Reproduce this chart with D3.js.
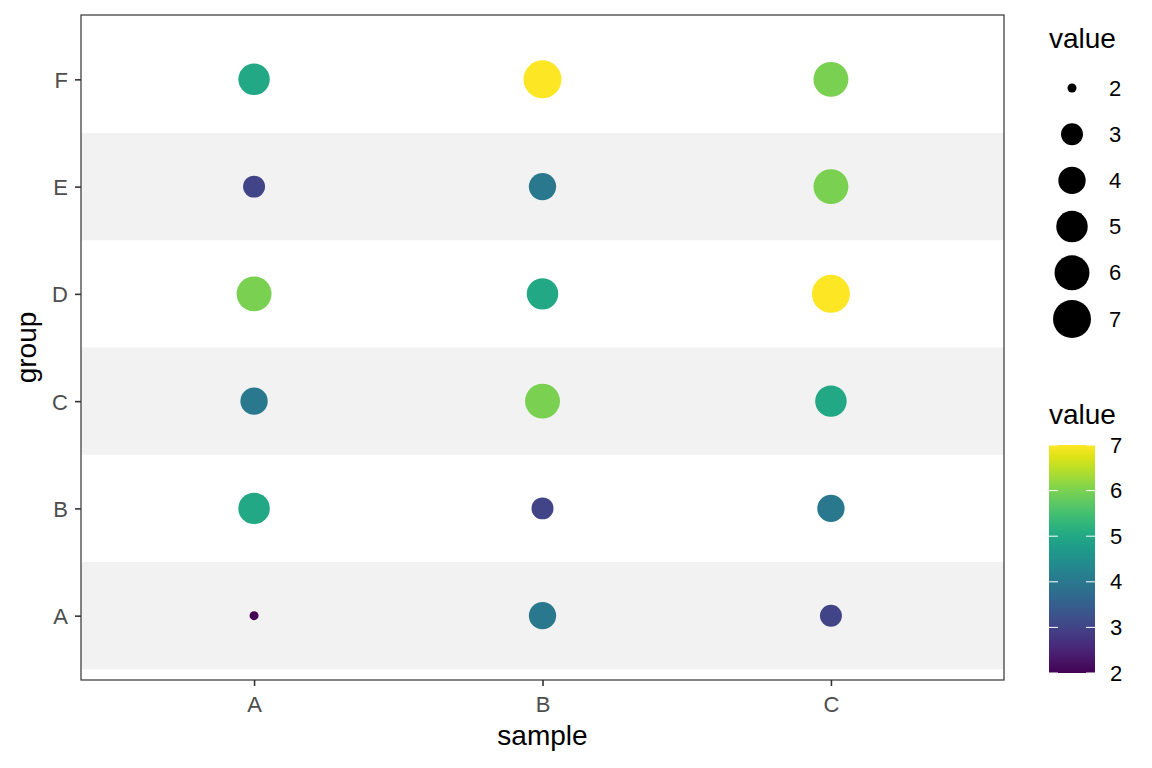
<!DOCTYPE html>
<html>
<head>
<meta charset="utf-8">
<script src="https://cdn.jsdelivr.net/npm/d3@7"></script>
<style>
  body { margin: 0; background: #fff; }
  text { font-family: "Liberation Sans", Arial, sans-serif; }
</style>
</head>
<body>
<div id="chart"></div>
<script>
// data: one row per group, values for samples A, B, C
var samples = ["A", "B", "C"];
var groups = ["A", "B", "C", "D", "E", "F"];
var valuesA = [2, 4, 3]; // group A
var valuesB = [5, 3, 4];
var valuesC = [4, 6, 5];
var valuesD = [6, 5, 7];
var valuesE = [3, 4, 6];
var valuesF = [5, 7, 6];
var legendValues = [2, 3, 4, 5, 6, 7];

var rows = [valuesA, valuesB, valuesC, valuesD, valuesE, valuesF];
var data = [];
groups.forEach(function(g, i) {
    samples.forEach(function(s, j) {
        data.push({ group: g, sample: s, value: rows[i][j] });
    });
});

var W = 1152, H = 768;
var margin = { top: 15, right: 148, bottom: 88, left: 81 };
var width = W - margin.left - margin.right;
var height = H - margin.top - margin.bottom;
var titleSize = "28px", tickSize = "22px";

var svg = d3.select("#chart").append("svg")
    .attr("width", W).attr("height", H);

var fig = svg.append("g")
    .attr("transform", "translate(" + margin.left + "," + margin.top + ")");

// discrete scales with ggplot-like 0.6 expansion
var x = d3.scalePoint().domain(samples).range([0, width]).padding(0.6);
var y = d3.scalePoint().domain(groups).range([height, 0]).padding(0.6);
var band = y.step();

var colour = d3.scaleSequential(d3.interpolateViridis).domain([2, 7]);
var sizeScale = d3.scaleSqrt().domain([0, 5]).range([1, 6]);
function radius(v) { return 2.9 * sizeScale(v - 2) + 1.6; }

// alternating row shading
fig.selectAll("rect.stripe")
    .data(groups.filter(function(g, i) { return i % 2 === 0; }))
    .enter().append("rect")
    .attr("class", "stripe")
    .attr("x", 0)
    .attr("width", width)
    .attr("y", function(d) { return y(d) - band / 2; })
    .attr("height", band)
    .attr("fill", "#f2f2f2");

fig.selectAll("circle")
    .data(data)
    .enter().append("circle")
    .attr("cx", function(d) { return x(d.sample); })
    .attr("cy", function(d) { return y(d.group); })
    .attr("r", function(d) { return radius(d.value); })
    .attr("fill", function(d) { return colour(d.value); });

fig.append("rect")
    .attr("width", width).attr("height", height)
    .attr("fill", "none").attr("stroke", "#333").attr("stroke-width", 1.2);

var xAxis = fig.append("g")
    .attr("transform", "translate(0," + height + ")")
    .call(d3.axisBottom(x).tickSize(6).tickPadding(10));
var yAxis = fig.append("g")
    .call(d3.axisLeft(y).tickSize(6).tickPadding(7));
[xAxis, yAxis].forEach(function(a) {
    a.select(".domain").remove();
    a.selectAll("line").attr("stroke", "#333").attr("stroke-width", 1.6);
    a.selectAll("text").attr("fill", "#4d4d4d")
        .style("font-size", tickSize)
        .style("font-family", "'Liberation Sans', Arial, sans-serif");
});
yAxis.selectAll("text").attr("dy", "0.36em");

fig.append("text")
    .attr("text-anchor", "middle")
    .attr("x", width / 2)
    .attr("y", height + 65)
    .style("font-size", titleSize)
    .text("sample");

fig.append("text")
    .attr("text-anchor", "middle")
    .attr("transform", "rotate(-90)")
    .attr("x", -height / 2)
    .attr("y", -45)
    .style("font-size", titleSize)
    .text("group");

// size legend
var leg1 = svg.append("g").attr("transform", "translate(1049,0)");
leg1.append("text").attr("x", 0).attr("y", 48)
    .style("font-size", titleSize).text("value");
var keyY = d3.scalePoint().domain(legendValues).range([88, 319]);
leg1.selectAll("circle")
    .data(legendValues)
    .enter().append("circle")
    .attr("cx", 23)
    .attr("cy", function(d) { return keyY(d); })
    .attr("r", radius)
    .attr("fill", "#000");
leg1.selectAll("text.lab")
    .data(legendValues)
    .enter().append("text")
    .attr("class", "lab")
    .attr("x", 60)
    .attr("y", function(d) { return keyY(d) + 7.5; })
    .style("font-size", tickSize)
    .text(function(d) { return d; });

// colour bar legend
var leg2 = svg.append("g").attr("transform", "translate(1049,0)");
leg2.append("text").attr("x", 0).attr("y", 424)
    .style("font-size", titleSize).text("value");
var barTop = 445, barBottom = 673, barW = 46;
var cy = d3.scaleLinear().domain([2, 7]).range([barBottom, barTop]);
var grad = svg.append("defs").append("linearGradient")
    .attr("id", "vgrad").attr("x1", 0).attr("y1", 1).attr("x2", 0).attr("y2", 0);
d3.range(0, 1.0001, 0.05).forEach(function(t) {
    grad.append("stop")
        .attr("offset", t)
        .attr("stop-color", colour(2 + 5 * t));
});
leg2.append("rect")
    .attr("x", 0).attr("y", barTop)
    .attr("width", barW).attr("height", barBottom - barTop)
    .attr("fill", "url(#vgrad)");
leg2.selectAll("line.tl")
    .data(legendValues)
    .enter().append("line")
    .attr("x1", 0).attr("x2", 9)
    .attr("y1", function(d) { return cy(d); })
    .attr("y2", function(d) { return cy(d); })
    .attr("stroke", "#fff").attr("stroke-width", 1);
leg2.selectAll("line.tr")
    .data(legendValues)
    .enter().append("line")
    .attr("x1", barW - 9).attr("x2", barW)
    .attr("y1", function(d) { return cy(d); })
    .attr("y2", function(d) { return cy(d); })
    .attr("stroke", "#fff").attr("stroke-width", 1);
leg2.selectAll("text.lab")
    .data(legendValues)
    .enter().append("text")
    .attr("class", "lab")
    .attr("x", barW + 15)
    .attr("y", function(d) { return cy(d) + 7.5; })
    .style("font-size", tickSize)
    .text(function(d) { return d; });
</script>
</body>
</html>
